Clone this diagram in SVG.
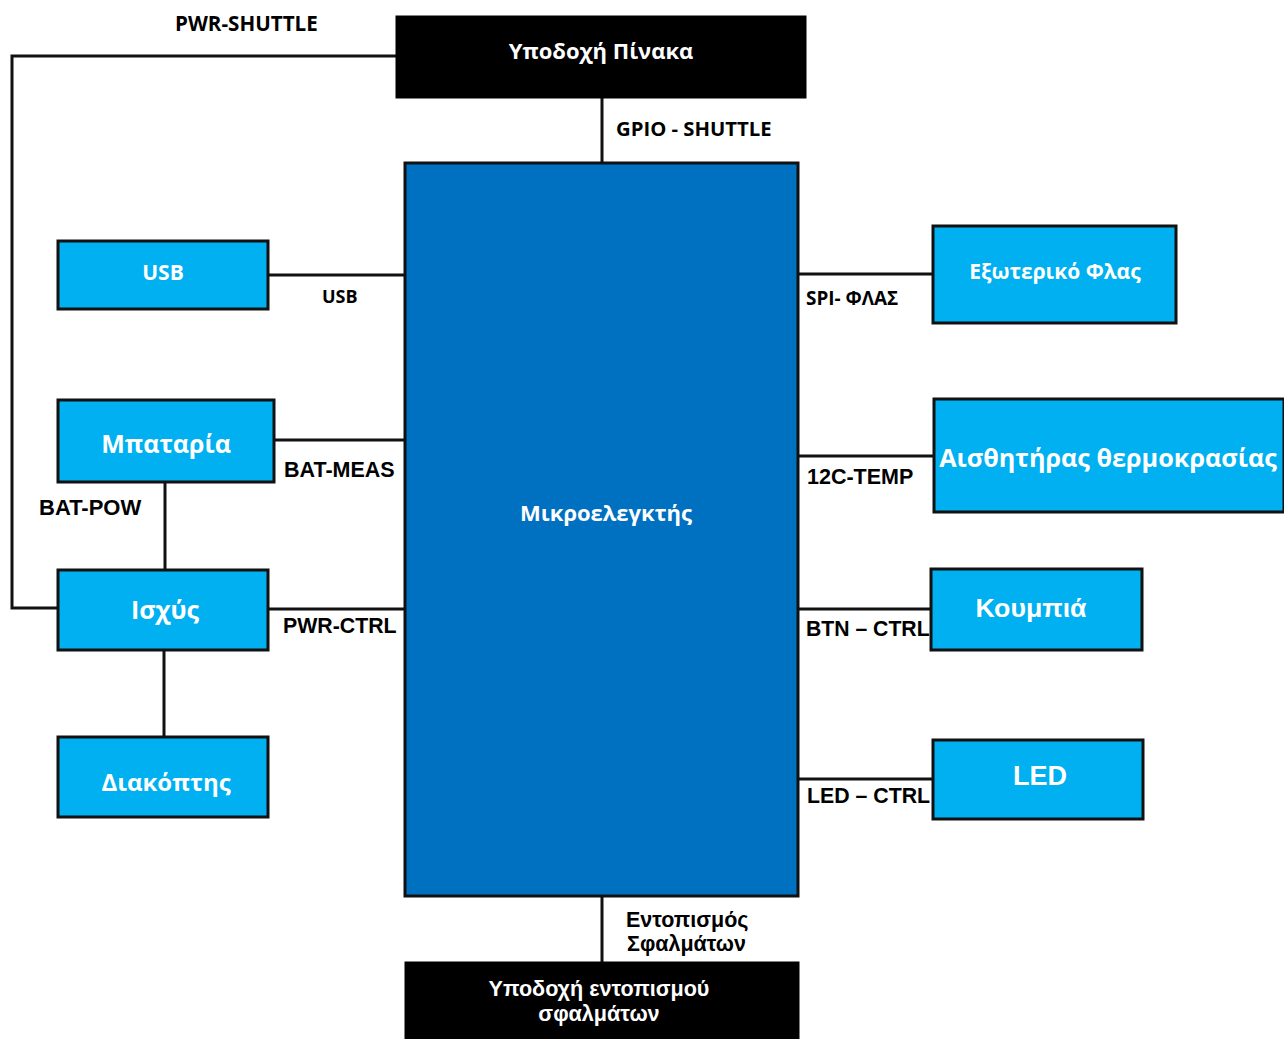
<svg xmlns="http://www.w3.org/2000/svg" width="1284" height="1039" viewBox="0 0 1284 1039">
<style>
.blk{fill:#000;stroke:#000;stroke-width:3}
.mcu{fill:#0070c0;stroke:#111;stroke-width:3}
.lb{fill:#00b0f0;stroke:#111;stroke-width:3}
.ln{fill:none;stroke:#111;stroke-width:3}
.wo{fill:#fff;font-family:"Open Sans","DejaVu Sans",sans-serif;font-weight:bold;text-anchor:middle;dominant-baseline:central}
.wa{fill:#fff;font-family:"Liberation Sans",Arial,sans-serif;font-weight:bold;text-anchor:middle;dominant-baseline:central}
.ko{fill:#000;font-family:"Open Sans","DejaVu Sans",sans-serif;font-weight:bold;dominant-baseline:central}
.ka{fill:#000;font-family:"Liberation Sans",Arial,sans-serif;font-weight:bold;dominant-baseline:central}
</style>
<rect width="1284" height="1039" fill="#fff"/>
<g id="connectors">
<polyline class="ln" points="397,56 12,56 12,608 58,608"/>
<line class="ln" x1="602" y1="97" x2="602" y2="163"/>
<line class="ln" x1="268" y1="275" x2="405" y2="275"/>
<line class="ln" x1="274" y1="440" x2="405" y2="440"/>
<line class="ln" x1="165" y1="482" x2="165" y2="570"/>
<line class="ln" x1="268" y1="609" x2="405" y2="609"/>
<line class="ln" x1="164" y1="650" x2="164" y2="737"/>
<line class="ln" x1="798" y1="274" x2="933" y2="274"/>
<line class="ln" x1="798" y1="456" x2="934" y2="456"/>
<line class="ln" x1="798" y1="609" x2="931" y2="609"/>
<line class="ln" x1="798" y1="779" x2="933" y2="779"/>
<line class="ln" x1="602" y1="896" x2="602" y2="963"/>
<text class="ko" x="175" y="23" font-size="20.6">PWR-SHUTTLE</text>
<text class="ko" x="616" y="128" font-size="20.3">GPIO - SHUTTLE</text>
<text class="ko" x="322" y="296" font-size="18">USB</text>
<text class="ka" x="284" y="470" font-size="21.5">BAT-MEAS</text>
<text class="ka" x="39" y="507" font-size="22">BAT-POW</text>
<text class="ka" x="283" y="626" font-size="21.3">PWR-CTRL</text>
<text class="ko" x="806" y="298" font-size="18.9">SPI- ΦΛΑΣ</text>
<text class="ka" x="807" y="477" font-size="21.5">12C-TEMP</text>
<text class="ka" x="806" y="628" font-size="21.2">BTN – CTRL</text>
<text class="ka" x="807" y="796" font-size="21.3">LED – CTRL</text>
<text class="ka" x="626" y="920" font-size="21.5">Εντοπισμός</text>
<text class="ka" x="627" y="944" font-size="21.5">Σφαλμάτων</text>
</g>
<g id="board-socket">
<rect class="blk" x="397" y="17" width="408" height="80"/>
<text class="wo" x="601" y="50" font-size="22">Υποδοχή Πίνακα</text>
</g>
<g id="mcu">
<rect class="mcu" x="405" y="163" width="393" height="733"/>
<text class="wo" x="606" y="512" font-size="22">Μικροελεγκτής</text>
</g>
<g id="usb">
<rect class="lb" x="58" y="241" width="210" height="68"/>
<text class="wo" x="163" y="272" font-size="21">USB</text>
</g>
<g id="battery">
<rect class="lb" x="58" y="400" width="216" height="82"/>
<text class="wo" x="166" y="443" font-size="25">Μπαταρία</text>
</g>
<g id="power">
<rect class="lb" x="58" y="570" width="210" height="80"/>
<text class="wo" x="165" y="609" font-size="25">Ισχύς</text>
</g>
<g id="switch">
<rect class="lb" x="58" y="737" width="210" height="80"/>
<text class="wo" x="166" y="781" font-size="24">Διακόπτης</text>
</g>
<g id="flash">
<rect class="lb" x="933" y="226" width="243" height="97"/>
<text class="wo" x="1055" y="271" font-size="21">Εξωτερικό Φλας</text>
</g>
<g id="temp">
<rect class="lb" x="934" y="399" width="350" height="113"/>
<text class="wo" x="1108" y="457" font-size="25.2" font-weight="600">Αισθητήρας θερμοκρασίας</text>
</g>
<g id="buttons">
<rect class="lb" x="931" y="569" width="211" height="81"/>
<text class="wa" x="1031" y="608" font-size="26.7">Κουμπιά</text>
</g>
<g id="led">
<rect class="lb" x="933" y="740" width="210" height="79"/>
<text class="wa" x="1040" y="776" font-size="27">LED</text>
</g>
<g id="debug-socket">
<rect class="blk" x="406" y="963" width="392" height="80"/>
<text class="wa" x="599" y="988" font-size="21.6">Υποδοχή εντοπισμού</text>
<text class="wa" x="599" y="1013" font-size="21.6">σφαλμάτων</text>
</g>
</svg>
